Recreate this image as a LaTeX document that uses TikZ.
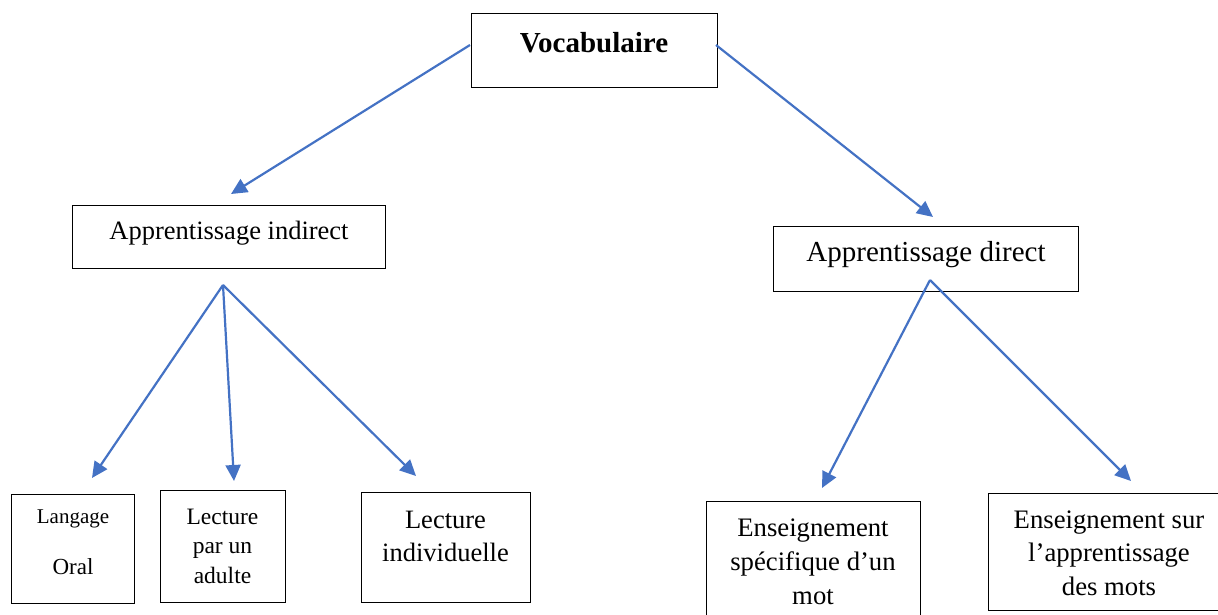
\documentclass[tikz,border=0pt]{standalone}
\usepackage{fontspec}
\setmainfont{Liberation Serif}
\usetikzlibrary{arrows.meta}
\definecolor{arrowblue}{HTML}{4472C4}
\tikzset{
  x=1pt, y=-1pt,
  box/.style={draw=black, line width=1pt, inner sep=0pt},
  lbl/.style={inner sep=0pt, align=center},
  conn/.style={draw=arrowblue, line width=2.2pt, -{Triangle[length=16pt,width=15pt]}},
}
\newcommand{\fs}[2]{\fontsize{#1pt}{#2pt}\selectfont}
\begin{document}
\begin{tikzpicture}
\useasboundingbox (0,0) rectangle (1218,615);
% boxes
\node[box, minimum width=246pt, minimum height=74pt] (vocbox) at (594,51) {};
\node[box, minimum width=313pt, minimum height=63pt] (indbox) at (228.5,236.5) {};
\node[box, minimum width=305pt, minimum height=65pt] (dirbox) at (925.5,258.5) {};
\node[box, minimum width=123pt, minimum height=109pt] (oralbox) at (72.5,548.5) {};
\node[box, minimum width=125pt, minimum height=112pt] (adubox) at (222.5,546) {};
\node[box, minimum width=169pt, minimum height=110pt] (indivbox) at (445.5,547) {};
\node[box, minimum width=214pt, minimum height=120pt] (specbox) at (813,561) {};
\node[box, minimum width=236pt, minimum height=117pt] (motsbox) at (1106,551.5) {};
% texts
\node[lbl, font=\fs{29}{33}\bfseries] (voc) at (594,43) {Vocabulaire};
\node[lbl, font=\fs{26.5}{30}] (ind) at (229,233) {Apprentissage indirect};
\node[lbl, font=\fs{29}{33}] (dir) at (926,255) {Apprentissage direct};
\node[lbl, font=\fs{21}{24}] (lang) at (73,519) {Langage};
\node[lbl, font=\fs{23}{26}] (oral) at (73,567) {Oral};
\node[lbl, font=\fs{23.5}{29.5}] (adu) at (222.5,546) {Lecture\\par un\\adulte};
\node[lbl, font=\fs{26.5}{33}] (indiv) at (445.5,536) {Lecture\\individuelle};
\node[lbl, font=\fs{26.7}{34}] (spec) at (813,562) {Enseignement\\spécifique d’un\\mot};
\node[lbl, font=\fs{26.7}{33.5}] (mots) at (1109,553) {Enseignement sur\\l’apprentissage\\des mots};
% connector end points
\coordinate (vocL) at (470,45);
\coordinate (vocR) at (716,45);
\coordinate (indS) at (223,285);
\coordinate (dirS) at (930,280);
\coordinate (indE) at (231,194);
\coordinate (dirE) at (933,217);
\coordinate (oralE) at (92,478);
\coordinate (aduE) at (234,481);
\coordinate (indivE) at (416,476);
\coordinate (specE) at (822,488);
\coordinate (motsE) at (1131,481);
% connectors
\draw[conn] (vocL) -- (indE);
\draw[conn] (vocR) -- (dirE);
\draw[conn] (indS) -- (oralE);
\draw[conn] (indS) -- (aduE);
\draw[conn] (indS) -- (indivE);
\draw[conn] (dirS) -- (specE);
\draw[conn] (dirS) -- (motsE);
\end{tikzpicture}
\end{document}
